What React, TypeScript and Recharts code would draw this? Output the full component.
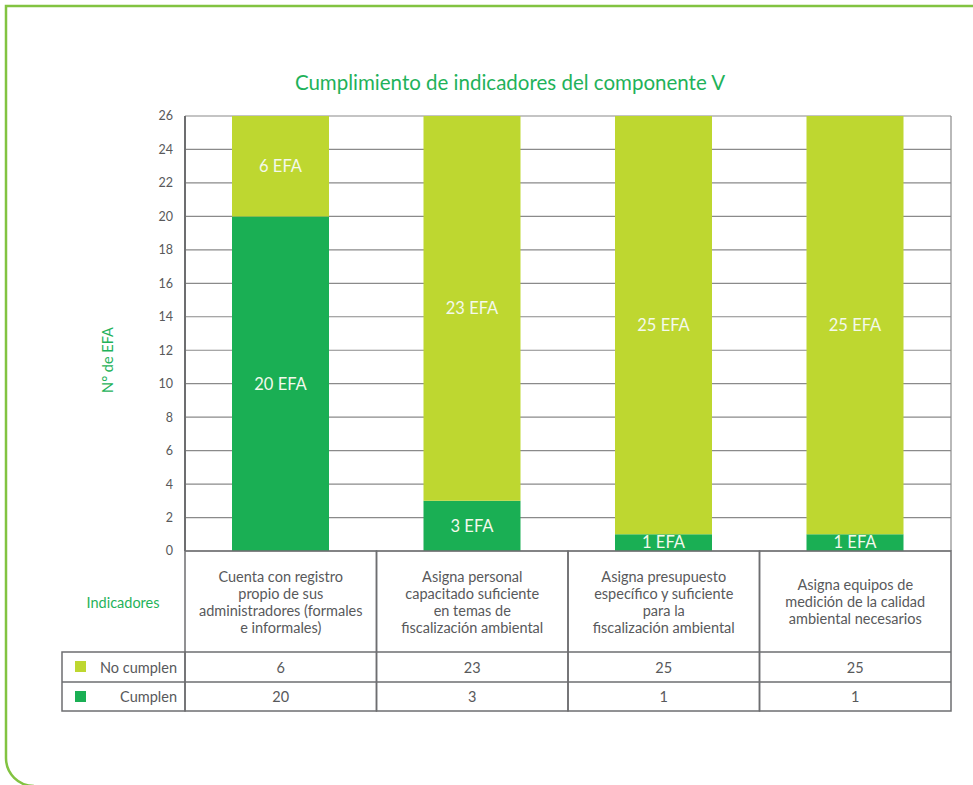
import React from "react";
import {
  BarChart,
  Bar,
  XAxis,
  YAxis,
  CartesianGrid,
  LabelList,
} from "recharts";

// Data
const categoryLines: string[][] = [
  ["Cuenta con registro", "propio de sus", "administradores (formales", "e informales)"],
  ["Asigna personal", "capacitado suficiente", "en temas de", "fiscalización ambiental"],
  ["Asigna presupuesto", "específico y suficiente", "para la", "fiscalización ambiental"],
  ["Asigna equipos de", "medición de la calidad", "ambiental necesarios"],
];
const cumplen = [20, 3, 1, 1];
const noCumplen = [6, 23, 25, 25];
const yTicks = [0, 2, 4, 6, 8, 10, 12, 14, 16, 18, 20, 22, 24, 26];

const DARK = "#1aaf54";
const LIGHT = "#bed730";
const GREEN_TEXT = "#1fb25a";
const FRAME = "#82c341";
const GRID = "#8a8a8a";
const AXIS = "#6d6e70";
const TEXT = "#58595b";
const FONT = "Lato, 'Open Sans', sans-serif";

// layout
const W = 973;
const H = 785;
const PLOT_LEFT = 185;
const PLOT_RIGHT = 951;
const PLOT_TOP = 116;
const PLOT_BOTTOM = 551;
const HEADER_H = 101;
const ROW_H = 30;
const COL_W = (PLOT_RIGHT - PLOT_LEFT) / categoryLines.length;
const LEFT_COL_X = 62;

const data = categoryLines.map((lines, i) => ({
  name: lines.join(" "),
  cumplen: cumplen[i],
  noCumplen: noCumplen[i],
}));

function TableTick(props: any) {
  const { x, y, payload } = props;
  const i = payload.index;
  const lines = categoryLines[i];
  const left = x - COL_W / 2;
  const lineH = 17;
  const midY = y + HEADER_H / 2;
  const startY = midY - ((lines.length - 1) * lineH) / 2;
  return (
    <g>
      <rect x={left} y={y} width={COL_W} height={HEADER_H + ROW_H * 2 - 1} fill="none" stroke={AXIS} strokeWidth={1.5} />
      <line x1={left} x2={left + COL_W} y1={y + HEADER_H} y2={y + HEADER_H} stroke={AXIS} strokeWidth={1.5} />
      <line x1={left} x2={left + COL_W} y1={y + HEADER_H + ROW_H} y2={y + HEADER_H + ROW_H} stroke={AXIS} strokeWidth={1.5} />
      {lines.map((t, k) => (
        <text key={k} x={x} y={startY + k * lineH} textAnchor="middle" dominantBaseline="central" fontSize={14.5} fill={TEXT} fontFamily={FONT}>
          {t}
        </text>
      ))}
      <text x={x} y={y + HEADER_H + ROW_H / 2} textAnchor="middle" dominantBaseline="central" fontSize={14.5} fill={TEXT} fontFamily={FONT}>
        {noCumplen[i]}
      </text>
      <text x={x} y={y + HEADER_H + ROW_H * 1.5 - 1} textAnchor="middle" dominantBaseline="central" fontSize={14.5} fill={TEXT} fontFamily={FONT}>
        {cumplen[i]}
      </text>
    </g>
  );
}

export default function App() {
  const rowTop = PLOT_BOTTOM + HEADER_H;
  return (
    <div style={{ position: "absolute", left: 0, top: 0, width: W, height: H, background: "#fff", overflow: "hidden" }}>
      <BarChart
        width={W}
        height={H}
        data={data}
        margin={{ top: PLOT_TOP, right: W - PLOT_RIGHT, left: PLOT_LEFT - 40, bottom: 0 }}
        barSize={97}
      >
        <CartesianGrid
          stroke={GRID}
          strokeWidth={1.2}
          verticalCoordinatesGenerator={({ offset }: any) => [offset.left, offset.left + offset.width]}
        />
        <XAxis
          dataKey="name"
          axisLine={false}
          tickLine={false}
          tickSize={0}
          tickMargin={0}
          interval={0}
          height={H - PLOT_BOTTOM}
          tick={<TableTick />}
        />
        <YAxis
          width={40}
          domain={[0, 26]}
          ticks={yTicks}
          interval={0}
          axisLine={{ stroke: AXIS, strokeWidth: 2 }}
          tickLine={false}
          tickSize={0}
          tickMargin={12}
          tick={{ fontSize: 12.5, fill: TEXT, fontFamily: FONT }}
        />
        <Bar dataKey="cumplen" stackId="a" fill={DARK} isAnimationActive={false}>
          <LabelList dataKey="cumplen" position="center" formatter={(v: any) => `${v} EFA`} fill="#f4f9ec" fontSize={16.5} fontFamily={FONT} />
        </Bar>
        <Bar dataKey="noCumplen" stackId="a" fill={LIGHT} isAnimationActive={false}>
          <LabelList dataKey="noCumplen" position="center" formatter={(v: any) => `${v} EFA`} fill="#f4f9ec" fontSize={16.5} fontFamily={FONT} />
        </Bar>
      </BarChart>
      <svg width={W} height={H} style={{ position: "absolute", left: 0, top: 0, pointerEvents: "none" }}>
        <path d={`M ${W} 6 L 6 6 L 6 758 A 28 28 0 0 0 34 786`} fill="none" stroke={FRAME} strokeWidth={2.5} />
        <text x={510} y={90} textAnchor="middle" fontSize={20.5} fill={GREEN_TEXT} fontFamily={FONT}>
          Cumplimiento de indicadores del componente V
        </text>
        <text x={107} y={360} textAnchor="middle" dominantBaseline="central" fontSize={14.5} fill={GREEN_TEXT} fontFamily={FONT} transform="rotate(-90 107 360)">
          N° de EFA
        </text>
        <text x={123} y={602} textAnchor="middle" dominantBaseline="central" fontSize={14.5} fill={GREEN_TEXT} fontFamily={FONT}>
          Indicadores
        </text>
        <rect x={LEFT_COL_X} y={rowTop} width={PLOT_LEFT - LEFT_COL_X} height={ROW_H * 2 - 1} fill="none" stroke={AXIS} strokeWidth={1.5} />
        <line x1={LEFT_COL_X} x2={PLOT_LEFT} y1={rowTop + ROW_H} y2={rowTop + ROW_H} stroke={AXIS} strokeWidth={1.5} />
        <rect x={75} y={rowTop + 9} width={11} height={11} fill={LIGHT} />
        <rect x={75} y={rowTop + ROW_H + 9} width={11} height={11} fill={DARK} />
        <text x={177} y={rowTop + ROW_H / 2} textAnchor="end" dominantBaseline="central" fontSize={14.5} fill={TEXT} fontFamily={FONT}>
          No cumplen
        </text>
        <text x={177} y={rowTop + ROW_H * 1.5 - 1} textAnchor="end" dominantBaseline="central" fontSize={14.5} fill={TEXT} fontFamily={FONT}>
          Cumplen
        </text>
      </svg>
    </div>
  );
}
